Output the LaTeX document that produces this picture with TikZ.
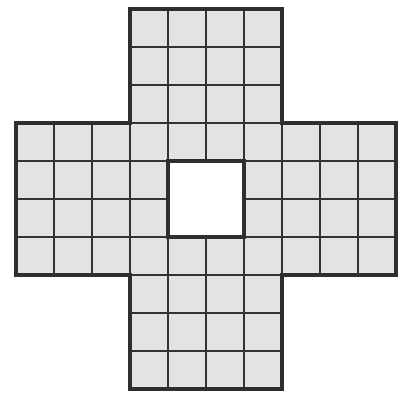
\documentclass[tikz,border=0pt]{standalone}
\begin{document}
\begin{tikzpicture}[x=1pt,y=-1pt,
  cellfill/.style={fill=black!11},
  gridline/.style={draw=black!80,line width=1.3pt},
  outline/.style={draw=black!82,line width=4pt,line join=miter}]
\useasboundingbox (0,0) rectangle (409,393);
\def\crosspath{(130,9) -- (282,9) -- (282,123) -- (396,123) -- (396,275) -- (282,275) -- (282,389) -- (130,389) -- (130,275) -- (16,275) -- (16,123) -- (130,123) -- cycle}
\fill[cellfill] \crosspath;
\begin{scope}
  \clip \crosspath;
  \foreach \k in {0,...,10} {
    \draw[gridline] ({16+38*\k},0) -- ({16+38*\k},393);
    \draw[gridline] (0,{9+38*\k}) -- (409,{9+38*\k});
  }
\end{scope}
\filldraw[fill=white,outline] (168,161) rectangle (244,237);
\draw[outline] \crosspath;
\end{tikzpicture}
\end{document}
